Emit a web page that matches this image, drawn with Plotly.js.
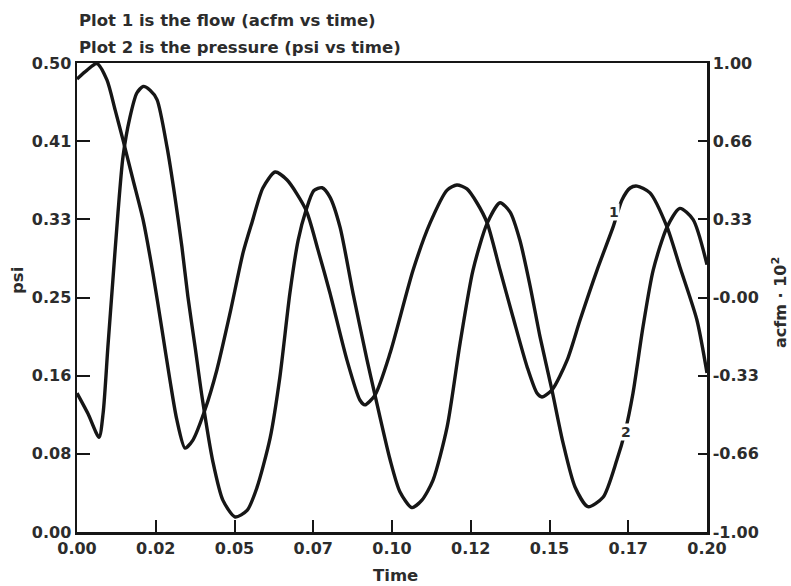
<!DOCTYPE html>
<html>
<head>
<meta charset="utf-8">
<script src="https://cdn.plot.ly/plotly-3.0.1.min.js"></script>
<style>html,body{margin:0;padding:0;background:#fff;}#chart{width:791px;height:586px;}</style>
</head>
<body>
<div id="chart"></div>
<script>
// Plot 1: flow (acfm x 10^2, right axis)
var timeFlow = [0, 0.0032, 0.0063, 0.0095, 0.0121, 0.0146, 0.0178, 0.0210, 0.0241, 0.0270, 0.0295, 0.0317, 0.0343, 0.0368, 0.0406, 0.0444, 0.0486, 0.0527, 0.0556, 0.0590, 0.0629, 0.0667, 0.0727, 0.0765, 0.0803, 0.0857, 0.0898, 0.0914, 0.0946, 0.0994, 0.1067, 0.1121, 0.1175, 0.1206, 0.1238, 0.1270, 0.1302, 0.1343, 0.1384, 0.1429, 0.1460, 0.1476, 0.1508, 0.1556, 0.1597, 0.1651, 0.1702, 0.1730, 0.1756, 0.1778, 0.1819, 0.1873, 0.1914, 0.1968, 0.2000];
var flowValues = [0.932, 0.970, 0.998, 0.928, 0.800, 0.672, 0.501, 0.330, 0.104, -0.139, -0.352, -0.522, -0.642, -0.608, -0.480, -0.309, -0.066, 0.190, 0.322, 0.467, 0.535, 0.501, 0.373, 0.203, 0.019, -0.267, -0.437, -0.458, -0.416, -0.237, 0.117, 0.318, 0.458, 0.480, 0.463, 0.403, 0.318, 0.117, -0.083, -0.296, -0.407, -0.424, -0.394, -0.267, -0.096, 0.117, 0.301, 0.416, 0.467, 0.475, 0.446, 0.301, 0.130, -0.096, -0.322];

// Plot 2: pressure (psi, left axis)
var timePressure = [0, 0.0035, 0.0070, 0.0083, 0.0098, 0.0114, 0.0130, 0.0146, 0.0168, 0.0190, 0.0210, 0.0232, 0.0254, 0.0286, 0.0311, 0.0333, 0.0352, 0.0375, 0.0397, 0.0432, 0.0463, 0.0502, 0.0540, 0.0571, 0.0613, 0.0644, 0.0676, 0.0702, 0.0727, 0.0752, 0.0778, 0.0803, 0.0835, 0.0876, 0.0921, 0.0946, 0.0994, 0.1025, 0.1063, 0.1095, 0.1130, 0.1175, 0.1216, 0.1257, 0.1302, 0.1343, 0.1375, 0.1406, 0.1438, 0.1470, 0.1508, 0.1543, 0.1581, 0.1622, 0.1670, 0.1714, 0.1740, 0.1765, 0.1797, 0.1829, 0.1873, 0.1914, 0.1956, 0.2000];
var pressureValues = [0.148, 0.126, 0.101, 0.127, 0.197, 0.269, 0.340, 0.400, 0.442, 0.468, 0.475, 0.471, 0.461, 0.410, 0.357, 0.304, 0.251, 0.197, 0.144, 0.074, 0.034, 0.016, 0.023, 0.047, 0.100, 0.165, 0.255, 0.311, 0.343, 0.364, 0.367, 0.357, 0.325, 0.255, 0.183, 0.146, 0.077, 0.043, 0.026, 0.034, 0.055, 0.112, 0.201, 0.279, 0.329, 0.351, 0.341, 0.311, 0.263, 0.208, 0.151, 0.095, 0.048, 0.027, 0.037, 0.077, 0.107, 0.148, 0.219, 0.279, 0.325, 0.345, 0.333, 0.285];

// Tick labels
var timeTickVals = [0, 0.025, 0.05, 0.075, 0.1, 0.125, 0.15, 0.175, 0.2];
var timeTickText = ["0.00", "0.02", "0.05", "0.07", "0.10", "0.12", "0.15", "0.17", "0.20"];
var psiTickVals = [0, 0.0833, 0.1667, 0.25, 0.3333, 0.4167, 0.5];
var psiTickText = ["0.00", "0.08", "0.16", "0.25", "0.33", "0.41", "0.50"];
var acfmTickVals = [-1, -0.6667, -0.3333, 0, 0.3333, 0.6667, 1];
var acfmTickText = ["-1.00", "-0.66", "-0.33", "-0.00", "0.33", "0.66", "1.00"];

var FONT = "DejaVu Sans, Arial, sans-serif";
var INK = "#161616";
var TEXT = "#2c2c2c";
function f(size) { return {family: FONT, size: size, color: TEXT, weight: "bold"}; }

var traces = [
  {x: timeFlow, y: flowValues, yaxis: "y2", type: "scatter", mode: "lines",
   line: {color: INK, width: 3.4, shape: "spline", smoothing: 0.7}, hoverinfo: "skip", showlegend: false},
  {x: timePressure, y: pressureValues, yaxis: "y", type: "scatter", mode: "lines",
   line: {color: INK, width: 3.4, shape: "spline", smoothing: 0.7}, hoverinfo: "skip", showlegend: false}
];

var layout = {
  width: 791, height: 586,
  margin: {l: 77, r: 84, t: 63, b: 54, pad: 0},
  paper_bgcolor: "#fff", plot_bgcolor: "#fff",
  font: f(16),
  showlegend: false,
  xaxis: {
    range: [0, 0.2], tickmode: "array", tickvals: timeTickVals, ticktext: timeTickText,
    ticks: "inside", ticklen: 12, tickwidth: 2, tickcolor: INK,
    showline: true, linewidth: 2.5, linecolor: INK, mirror: true,
    showgrid: false, zeroline: false,
    tickfont: f(16)
  },
  yaxis: {
    range: [0, 0.5], tickmode: "array", tickvals: psiTickVals, ticktext: psiTickText,
    ticks: "inside", ticklen: 13, tickwidth: 2, tickcolor: INK,
    showline: true, linewidth: 2.5, linecolor: INK,
    showgrid: false, zeroline: false,
    tickfont: f(16)
  },
  yaxis2: {
    range: [-1, 1], overlaying: "y", side: "right",
    tickmode: "array", tickvals: acfmTickVals, ticktext: acfmTickText,
    ticks: "inside", ticklen: 9, tickwidth: 2, tickcolor: INK,
    showline: true, linewidth: 2.5, linecolor: INK,
    showgrid: false, zeroline: false,
    tickfont: f(16)
  },
  annotations: [
    {xref: "paper", yref: "paper", x: 0.0, y: 1 + (63 - 20) / 469, xanchor: "left", yanchor: "middle",
     text: "Plot 1 is the flow (acfm vs time)", showarrow: false, font: f(16.5)},
    {xref: "paper", yref: "paper", x: 0.0, y: 1 + (63 - 47) / 469, xanchor: "left", yanchor: "middle",
     text: "Plot 2 is the pressure (psi vs time)", showarrow: false, font: f(16.5)},
    {xref: "paper", yref: "paper", x: (395 - 77) / 630, y: (532 - 575) / 469, xanchor: "center", yanchor: "middle",
     text: "Time", showarrow: false, font: f(16.5)},
    {xref: "paper", yref: "paper", x: (17 - 77) / 630, y: (532 - 281) / 469, xanchor: "center", yanchor: "middle",
     text: "psi", textangle: -90, showarrow: false, font: f(16.5)},
    {xref: "paper", yref: "paper", x: (779 - 77) / 630, y: (532 - 303) / 469, xanchor: "center", yanchor: "middle",
     text: "acfm · 10<sup>2</sup>", textangle: -90, showarrow: false, font: f(16)},
    {xref: "x", yref: "y", x: 0.1706, y: 0.341, text: "1", showarrow: false, bgcolor: "#fff",
     font: f(14), borderpad: 0},
    {xref: "x", yref: "y", x: 0.1742, y: 0.107, text: "2", showarrow: false, bgcolor: "#fff",
     font: f(14), borderpad: 0}
  ]
};

Plotly.newPlot("chart", traces, layout, {displayModeBar: false, staticPlot: true});
</script>
</body>
</html>
